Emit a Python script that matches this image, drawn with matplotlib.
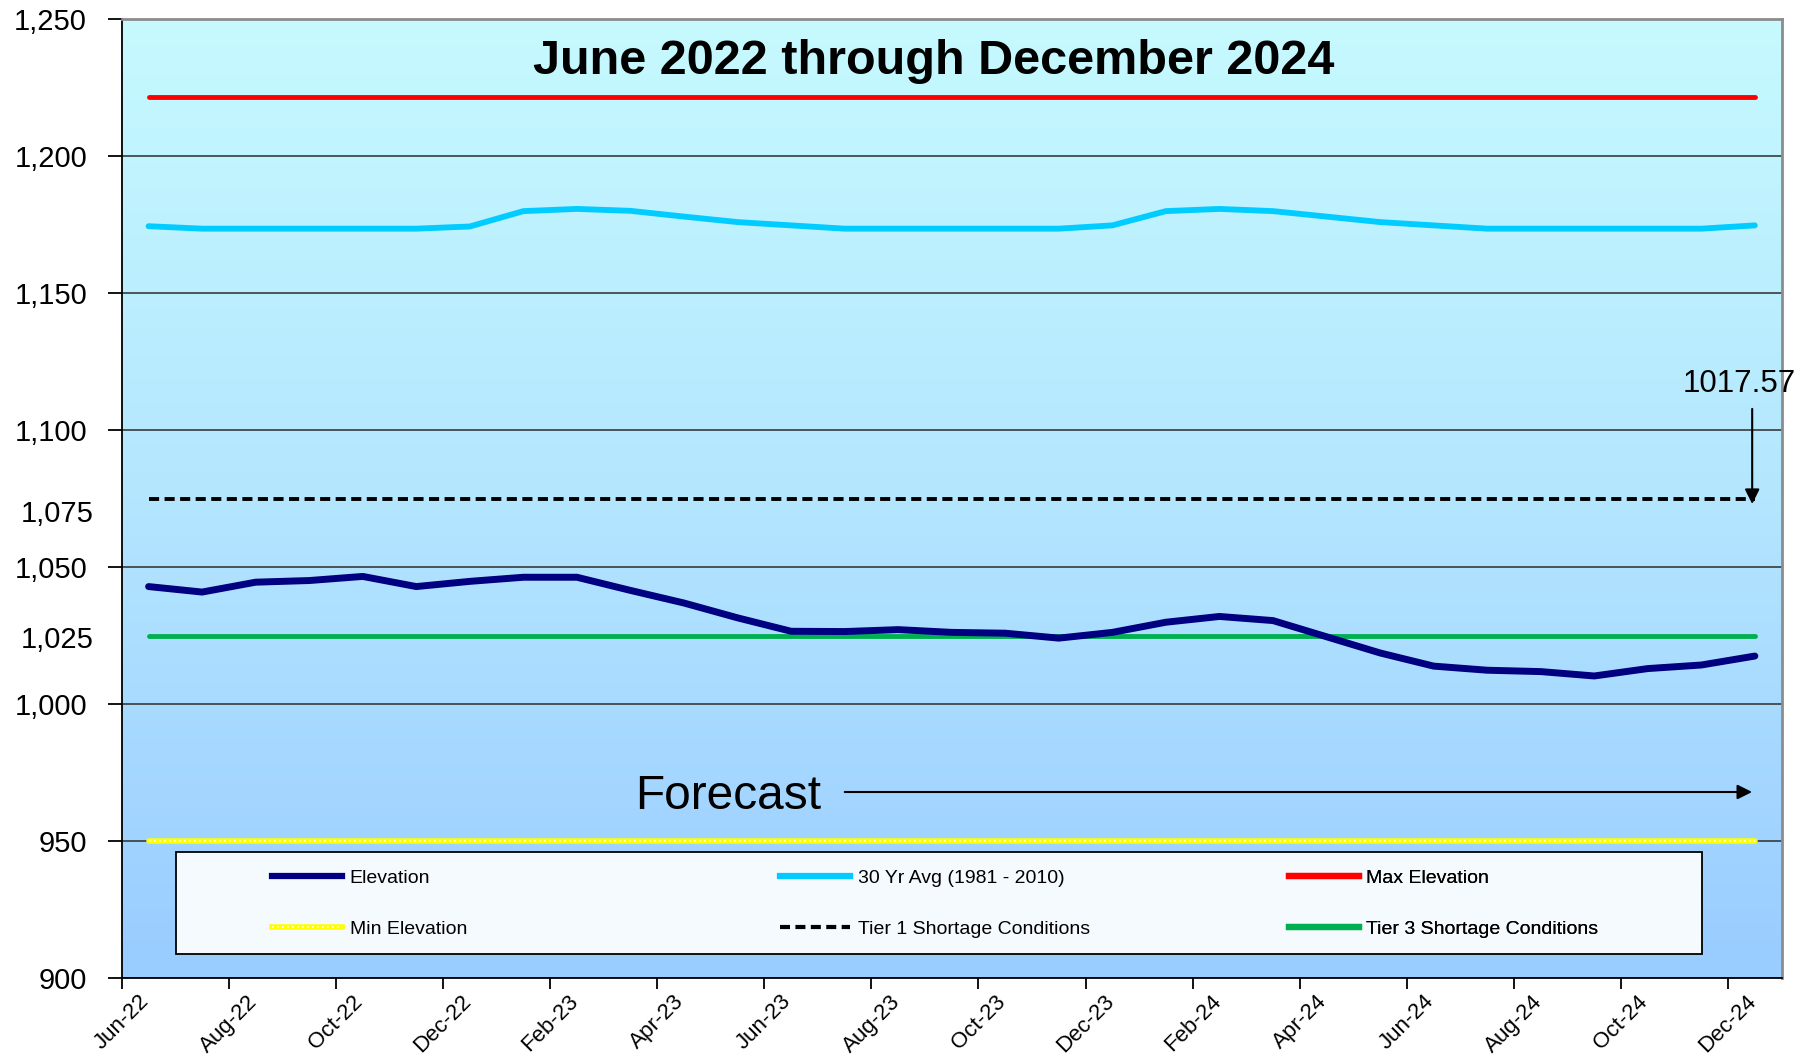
import matplotlib.pyplot as plt
import numpy as np
from matplotlib.lines import Line2D
from matplotlib.patches import Rectangle
from matplotlib.colors import LinearSegmentedColormap
from matplotlib.ticker import FuncFormatter
import matplotlib.transforms as mtransforms

# monthly categories, Jun-22 .. Dec-24
months = ['Jun-22', 'Jul-22', 'Aug-22', 'Sep-22', 'Oct-22', 'Nov-22', 'Dec-22',
          'Jan-23', 'Feb-23', 'Mar-23', 'Apr-23', 'May-23', 'Jun-23', 'Jul-23',
          'Aug-23', 'Sep-23', 'Oct-23', 'Nov-23', 'Dec-23', 'Jan-24', 'Feb-24',
          'Mar-24', 'Apr-24', 'May-24', 'Jun-24', 'Jul-24', 'Aug-24', 'Sep-24',
          'Oct-24', 'Nov-24', 'Dec-24']

elevation = [1042.9, 1040.9, 1044.5, 1045.1, 1046.6, 1042.9, 1044.8, 1046.3,
             1046.3, 1041.5, 1036.9, 1031.5, 1026.6, 1026.5, 1027.2, 1026.2,
             1025.9, 1024.1, 1026.2, 1029.9, 1032.0, 1030.5, 1024.6, 1018.7,
             1013.9, 1012.4, 1011.9, 1010.3, 1013.0, 1014.3, 1017.57]

avg_30yr = [1174.3, 1173.4, 1173.4, 1173.4, 1173.4, 1173.4, 1174.2, 1179.8,
            1180.6, 1179.9, 1177.8, 1175.8, 1174.6, 1173.4, 1173.4, 1173.4,
            1173.4, 1173.4, 1174.6, 1179.8, 1180.6, 1179.8, 1177.8, 1175.8,
            1174.6, 1173.4, 1173.4, 1173.4, 1173.4, 1173.4, 1174.6]

max_elev = 1221.4
min_elev = 950
tier1 = 1075
tier3 = 1025
last_value = '1017.57'

plt.rcParams['font.family'] = ['Liberation Sans', 'DejaVu Sans']

fig = plt.figure(figsize=(18.18, 10.56), dpi=100)
ax = fig.add_axes([0.067, 0.0734, 0.913, 0.909])

n = len(months)
x = np.arange(n) + 0.5

# background gradient
cmap = LinearSegmentedColormap.from_list('bg', ['#C6FAFE', '#B4E6FF', '#99CCFF'])
grad = np.linspace(0, 1, 256).reshape(-1, 1)
ax.imshow(grad, extent=[0, n, 900, 1250], aspect='auto', cmap=cmap, zorder=0)

# lines
ax.plot(x, [max_elev] * n, color='#FF0000', lw=3.5, solid_capstyle='round', zorder=3)
ax.plot(x, avg_30yr, color='#00CCFF', lw=4.2, solid_capstyle='round', zorder=3)
ax.plot(x, [tier1] * n, color='black', lw=2.8, dashes=(2.6, 1.4), zorder=3)
ax.plot(x, [tier3] * n, color='#00B050', lw=3.5, solid_capstyle='round', zorder=3)
ax.plot(x, [min_elev] * n, color='#FFFF00', lw=4, solid_capstyle='round', zorder=3)
ax.plot(x, [min_elev] * n, color='white', lw=1.2, ls=(0, (1, 2)), zorder=3.1)
ax.plot(x, elevation, color='#000080', lw=5, solid_capstyle='round',
        solid_joinstyle='round', zorder=4)

ax.set_xlim(0, n)
ax.set_ylim(900, 1250)

# axes styling
for s in ['left', 'bottom']:
    ax.spines[s].set_color('black')
    ax.spines[s].set_linewidth(1.3)
for s in ['top', 'right']:
    ax.spines[s].set_color('#8C8C8C')
    ax.spines[s].set_linewidth(2)

ax.set_yticks(range(900, 1251, 50))
ax.yaxis.set_major_formatter(FuncFormatter(lambda v, p: f'{v:,.0f}'))
ax.set_xticks(np.arange(0, n, 2))
ax.set_xticklabels(months[::2], rotation=45, ha='center')
ax.tick_params(axis='y', length=10, width=1.3, pad=15, labelsize=21)
ax.tick_params(axis='x', length=8, width=1.3, pad=1, labelsize=16)
ax.yaxis.grid(True, color='#3A3A3A', lw=1.2)
ax.set_axisbelow(True)

trans = mtransforms.blended_transform_factory(ax.transAxes, ax.transData)
ax.text(-0.017, 1069.5, '1,075', transform=trans, ha='right', va='center', fontsize=21)
ax.text(-0.017, 1023.5, '1,025', transform=trans, ha='right', va='center', fontsize=21)

# title and annotations
ax.text(0.489, 0.955, 'June 2022 through December 2024', transform=ax.transAxes,
        ha='center', va='center', fontsize=35, fontweight='bold', zorder=6)

ax.text(11.32, 966.3, 'Forecast', ha='center', va='center', fontsize=34.5, zorder=6)
ax.annotate('', xy=(30.5, 968), xytext=(13.45, 968),
            arrowprops=dict(arrowstyle='-|>', color='black', lw=1.5, mutation_scale=22),
            zorder=6)

ax.text(30.2, 1116.8, last_value, ha='center', va='center', fontsize=22.5,
        clip_on=False, zorder=6)
ax.annotate('', xy=(30.45, 1072), xytext=(30.45, 1108.7),
            arrowprops=dict(arrowstyle='-|>', color='black', lw=1.5, mutation_scale=22),
            zorder=6)

# legend box
ax.add_patch(Rectangle((0.0325, 0.0255), 0.9195, 0.1065, transform=ax.transAxes,
                       facecolor='#F5FAFF', edgecolor='black', lw=1.3, zorder=5))

h_elev = Line2D([], [], color='#000080', lw=4.5)
h_avg = Line2D([], [], color='#00CCFF', lw=4.5)
h_max = Line2D([], [], color='#FF0000', lw=4.5)
h_min = (Line2D([], [], color='#FFFF00', lw=4),
         Line2D([], [], color='white', lw=1.2, ls=(0, (1, 2))))
h_t1 = Line2D([], [], color='black', lw=3, dashes=(2.4, 1.3))
h_t3 = Line2D([], [], color='#00B050', lw=4.5)

cols = [([h_elev, h_min], ['Elevation', 'Min Elevation'], 0.0904),
        ([h_avg, h_t1], ['30 Yr Avg (1981 - 2010)', 'Tier 1 Shortage Conditions'], 0.3964),
        ([h_max, h_t3], ['Max Elevation', 'Tier 3 Shortage Conditions'], 0.703)]
for handles, labels, xpos in cols:
    leg = ax.legend(handles, labels, loc='center left', bbox_to_anchor=(xpos, 0.078),
                    frameon=False, fontsize=14, handlelength=3.6, handletextpad=0.4,
                    labelspacing=1.75, borderpad=0, borderaxespad=0)
    leg.set_zorder(6)
    ax.add_artist(leg)

fig.savefig('out.png', dpi=100)
